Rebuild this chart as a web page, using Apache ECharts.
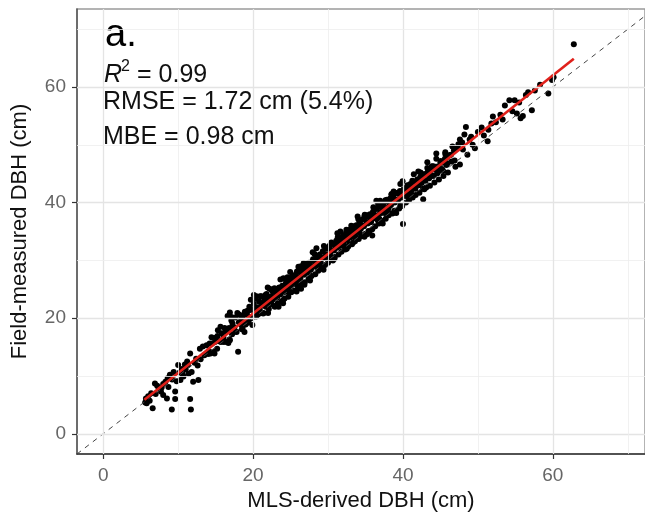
<!DOCTYPE html>
<html>
<head>
<meta charset="utf-8">
<script src="https://cdn.jsdelivr.net/npm/echarts@6/dist/echarts.min.js"></script>
<style>
  html, body { margin: 0; padding: 0; background: #fff; }
  #chart { width: 645px; height: 522px; }
</style>
</head>
<body>
<div id="chart"></div>
<script>
// MLS-derived vs field-measured DBH (cm)
var smallTrees = [
	[5.6,5.4],[5.8,5.3],[5.7,6.1],[6.0,6.5],[6.2,5.7],[6.6,4.4],[6.4,7.0],[6.9,8.7],[7.0,6.9],[7.4,7.9],
	[7.2,8.3],[7.7,7.3],[8.0,6.7],[8.0,8.6],[8.5,6.1],[8.3,9.0],[8.7,8.1],[8.9,10.2],[9.15,4.2],[9.4,10.7],
	[9.6,6.0],[9.6,7.3],[9.2,9.4],[9.8,9.1],[10.0,11.9],[10.3,9.3],[10.2,10.6],[10.5,11.2],[10.7,9.9],[10.9,12.0],
	[11.2,12.5],[11.4,10.4],[11.0,11.1],[11.6,6.0],[11.7,4.2],[11.8,10.7],[11.6,13.9],[12.0,9.0],[12.2,12.3],[12.4,13.0],
	[12.7,9.3],[12.9,14.7],[12.6,11.8],[13.3,15.1],[13.0,12.9],[13.5,13.6],[8.6,9.6],[10.6,10.3],[11.3,11.9],[7.8,8.0]
];
var youngTrees = [
	[13.8,15.3],[14.0,13.8],[14.3,13.9],[14.5,15.6],[14.9,15.9],[15.2,14.7],[15.0,16.6],[15.5,16.0],[15.8,17.4],[16.1,15.9],
	[16.5,15.9],[16.3,17.6],[16.9,16.2],[16.8,18.3],[17.1,19.6],[17.2,17.2],[17.5,18.4],[17.6,20.1],[17.8,17.6],[18.0,14.2],
	[18.1,19.3],[18.3,20.5],[18.5,18.1],[18.6,19.8],[18.9,21.1],[19.0,18.9],[19.2,20.6],[19.4,19.4],[19.6,21.4],[19.8,20.0],
	[19.9,18.8],[20.1,22.5],[20.2,21.0],[20.4,20.3],[16.6,20.4],[16.9,21.0],[17.1,20.2],[18.6,18.3],[20.1,24.0],[19.7,23.2],
	[14.2,15.6],[14.7,14.2],[15.3,17.9],[15.7,15.9],[16.2,18.3],[16.7,15.7],[17.3,18.5],[17.9,20.9],[18.4,18.9],[18.8,20.6],
	[19.3,19.2],[19.5,22.0],[20.0,20.3],[14.05,14.3],[14.45,16.7],[14.85,13.9],[15.25,16.9],[15.65,18.5],[16.05,16.6],[16.45,17.8],
	[16.85,16.3],[17.25,19.1],[17.65,17.7],[18.05,20.7],[18.45,19.6],[18.85,17.6],[19.25,21.3],[19.65,20.1],[20.05,21.6]
];
var midTrees = [
	[20.3,23.4],[20.5,21.8],[20.6,20.6],[20.8,22.9],[20.9,21.4],[21.1,23.8],[21.2,22.3],[21.4,20.9],[21.5,23.1],[21.7,22.0],
	[21.8,24.2],[22.0,22.8],[22.1,21.6],[22.3,23.7],[22.4,22.5],[22.6,24.6],[22.7,23.3],[22.9,22.0],[23.0,24.9],[23.2,23.6],
	[23.3,22.6],[23.5,25.3],[23.6,24.1],[23.8,22.9],[23.9,25.6],[24.1,24.5],[24.2,23.4],[24.4,26.2],[24.5,25.0],[24.7,23.7],
	[24.8,26.6],[25.0,25.5],[25.1,24.5],[25.3,27.3],[25.4,26.0],[25.6,24.8],[25.7,27.6],[25.9,26.4],[26.0,25.3],[26.2,28.1],
	[26.3,26.9],[26.5,25.9],[26.6,28.6],[26.8,27.5],[26.9,26.2],[27.1,29.0],[27.2,27.9],[27.4,26.8],[27.5,29.6],[27.7,28.4],
	[27.8,27.3],[28.0,30.2],[28.1,29.0],[28.3,27.6],[28.4,30.5],[28.6,29.4],[28.7,28.2],[28.9,31.0],[29.0,29.8],[29.2,28.7],
	[29.3,31.6],[29.5,30.4],[29.6,29.2],[29.8,32.0],[29.9,30.9],[30.0,29.6],
	[20.7,21.9],[21.3,22.6],[21.9,23.3],[22.5,23.0],[23.1,24.3],[23.7,25.0],[24.3,25.3],[24.9,25.9],[25.5,26.8],[26.1,27.0],
	[26.7,27.8],[27.3,28.4],[27.9,28.8],[28.5,29.6],[29.1,30.3],[29.7,30.7],[22.2,25.1],[24.6,27.1],[26.4,29.0],[28.2,31.1],
	[23.4,22.0],[25.8,24.6],[27.6,26.5],[29.4,28.4],[24.0,22.6],[26.4,25.1],[24.0,23.1],[22.0,20.9],
	[20.45,21.8],[20.95,23.8],[21.35,20.8],[21.65,23.7],[21.95,25.3],[22.25,22.4],[22.55,23.7],[22.85,25.2],[23.15,22.1],[23.45,25.2],
	[23.75,24.3],[24.05,26.9],[24.35,25.4],[24.65,24.6],[24.95,28.0],[25.25,26.9],[25.55,25.9],[25.85,28.1],[26.15,25.8],[26.45,27.8],
	[26.75,29.5],[27.05,27.9],[27.35,29.3],[27.65,27.2],[27.95,31.4],[28.25,29.9],[28.55,28.8],[28.85,30.7],[29.15,29.1],[29.45,32.5],
	[29.75,31.0],[20.45,23.8],[20.85,20.8],[21.25,22.2],[21.65,24.0],[22.05,22.5],[22.45,24.9],[22.85,22.1],[23.25,25.1],[23.65,26.7],
	[24.05,24.9],[24.45,26.1],[24.85,24.6],[25.25,27.3],[25.65,25.9],[26.05,28.9],[26.45,27.8],[26.85,25.8],[27.25,29.5],[27.65,28.4],
	[28.05,29.9],[28.45,32.1],[28.85,29.0],[29.25,30.4],[29.65,32.2]
];
var largeTrees = [
	[30.2,32.5],[30.3,31.3],[30.5,30.4],[30.6,32.9],[30.8,31.7],[30.9,30.6],[31.1,33.4],[31.2,32.2],[31.4,31.0],[31.5,33.8],
	[31.7,32.6],[31.8,31.5],[32.0,34.3],[32.1,33.1],[32.3,31.9],[32.4,34.8],[32.6,33.6],[32.7,32.4],[32.9,35.3],[33.0,34.0],
	[33.2,32.8],[33.3,35.7],[33.5,34.5],[33.6,33.3],[33.8,36.1],[33.9,35.0],[34.1,33.7],[34.2,36.6],[34.4,35.5],[34.5,34.2],
	[34.7,37.1],[34.8,35.9],[35.0,34.6],[35.1,37.5],[35.3,36.4],[35.4,35.1],[35.6,38.0],[35.7,36.9],[35.9,35.4],[36.0,38.4],
	[36.2,37.3],[36.3,35.9],[36.5,38.9],[36.6,37.8],[36.8,36.4],[36.9,39.3],[37.1,38.2],[37.2,36.8],[37.4,39.8],[37.5,38.7],
	[37.7,37.2],[37.8,40.2],[38.0,39.1],[38.1,37.8],[38.3,40.7],[38.4,39.6],[38.6,38.1],[38.7,41.1],[38.9,40.0],[39.0,38.6],
	[39.2,41.6],[39.3,40.5],[39.5,39.0],[39.6,42.0],[39.8,40.9],[39.9,39.4],
	[30.4,31.8],[31.0,32.4],[31.6,33.0],[32.2,33.6],[32.8,34.1],[33.4,34.8],[34.0,35.3],[34.6,36.0],[35.2,36.6],[35.8,37.1],
	[36.4,37.6],[37.0,38.3],[37.6,38.8],[38.2,39.4],[38.8,40.1],[39.4,40.6],[31.3,34.0],[33.1,36.0],[34.9,37.9],[36.7,39.7],
	[38.5,41.5],[32.5,32.0],[35.5,34.8],[37.3,36.4],[39.1,38.2],[40.0,36.3],[35.9,34.3],
	[30.05,30.6],[30.35,32.8],[30.65,30.0],[30.95,32.6],[31.25,34.7],[31.55,32.5],[31.85,34.0],[32.15,32.4],[32.45,35.3],[32.75,33.9],
	[33.05,34.8],[33.35,33.1],[33.65,36.0],[33.95,37.6],[34.25,34.7],[34.55,36.1],[34.85,37.6],[35.15,34.5],[35.45,37.6],[35.75,36.7],
	[36.05,39.2],[36.35,37.7],[36.65,36.9],[36.95,40.3],[37.25,39.2],[37.55,38.2],[37.85,40.5],[38.15,38.2],[38.45,40.2],[38.75,41.9],
	[39.05,40.3],[39.35,41.7],[39.65,39.5],[39.95,43.7],[30.05,30.7],[30.45,33.1],[30.85,30.3],[31.25,33.4],[31.65,35.0],[32.05,33.1],
	[32.45,34.3],[32.85,32.8],[33.25,35.5],[33.65,34.1],[34.05,37.1],[34.45,36.1],[34.85,34.1],[35.25,37.8],[35.65,36.6],[36.05,38.1],
	[36.45,40.3],[36.85,37.2],[37.25,38.6],[37.65,40.4],[38.05,39.0],[38.45,41.4],[38.85,38.6],[39.25,41.6],[39.65,43.2]
];
var bigTrees = [
	[40.1,42.3],[40.2,41.2],[40.4,40.0],[40.5,42.6],[40.7,41.6],[40.8,40.4],[41.0,43.2],[41.1,42.1],[41.3,40.9],[41.4,43.6],
	[41.6,42.5],[41.7,41.3],[41.9,44.0],[42.0,43.0],[42.2,41.7],[42.3,44.4],[42.5,43.4],[42.7,40.6],[42.8,44.9],[43.0,43.8],
	[43.1,42.6],[43.3,45.3],[43.5,44.2],[43.6,42.9],[43.8,45.7],[44.0,44.6],[44.2,43.5],[44.4,46.2],[44.6,45.1],[44.8,44.0],
	[45.0,47.0],[45.2,45.8],[45.4,44.6],[45.6,47.6],[45.8,46.5],[46.0,45.2],[46.2,48.2],[46.5,47.1],[46.8,49.0],[47.0,46.2],
	[47.3,49.5],[47.6,46.6],[40.6,43.0],[41.8,43.5],[43.2,44.8],[44.5,45.6],[45.9,47.9],[46.6,49.7],[47.6,50.9],[45.2,45.7],
	[40.25,42.2],[40.55,41.1],[40.85,43.0],[41.15,41.4],[41.45,44.9],[41.75,43.4],[42.05,43.0],[42.35,45.2],[42.65,42.4],[42.95,44.9],
	[43.25,47.0],[43.55,44.8],[43.85,46.3],[44.15,44.7],[44.45,47.6],[44.75,46.3],[45.05,47.2],[45.35,45.5],[45.65,48.4],[45.95,46.8],
	[46.4,48.3],[46.9,47.3],[47.4,50.1],[40.05,41.3],[40.45,42.5],[40.85,41.0],[41.25,43.8],[41.65,42.4],[42.05,45.4],[42.45,44.3],
	[42.85,42.3],[43.25,46.0],[43.65,44.8],[44.05,46.3],[44.45,48.5],[44.85,45.5],[45.25,46.9],[45.65,48.7]
];
var giantTrees = [
	[47.9,50.4],[48.2,51.8],[48.4,53.1],[48.6,48.3],[48.9,50.9],[49.1,51.4],[49.6,49.4],[50.0,52.2],[50.5,53.0],[51.3,50.6],
	[51.4,52.6],[51.8,53.7],[52.0,54.9],[52.4,53.9],[53.0,55.2],[53.6,56.8],[54.2,57.7],[54.6,55.8],[54.9,57.7],[55.2,55.4],
	[55.5,57.3],[55.7,54.6],[56.0,55.0],[56.4,58.6],[56.7,59.1],[57.2,56.0],[57.6,59.4],[58.3,60.4],[59.4,58.9],[59.9,61.2],
	[60.1,61.7],[62.8,67.4],[48.0,49.2],[49.3,50.0],[50.8,51.6],[53.3,54.4]
];
var fitLine = [[5.5, 5.9], [62.8, 64.9]];
var oneToOne = [[-3.5, -3.5], [72.3, 72.3]];
var gridValues = [0, 10, 20, 30, 40, 50, 60, 70];
var tickValues = [0, 20, 40, 60];

var allPoints = smallTrees.concat(youngTrees, midTrees, largeTrees, bigTrees, giantTrees);
var chart = echarts.init(document.getElementById('chart'));
var font = 'Liberation Sans, Arial, sans-serif';

var gridMarks = [];
gridValues.forEach(function (v) {
	var major = v % 20 === 0;
	var style = { color: major ? '#e4e4e4' : '#eeeeee', width: major ? 1.3 : 0.8, type: 'solid' };
	gridMarks.push({ xAxis: v, lineStyle: style });
	gridMarks.push({ yAxis: v, lineStyle: style });
});

var option = {
	animation: false,
	backgroundColor: '#fff',
	grid: {
		left: 77, right: 0, top: 9, bottom: 68,
		show: true, borderColor: '#9a9a9a', borderWidth: 1.5
	},
	xAxis: {
		type: 'value', min: -3.5, max: 72.3,
		name: 'MLS-derived DBH (cm)', nameLocation: 'middle', nameGap: 33,
		nameTextStyle: { fontFamily: font, fontSize: 22, color: '#111' },
		axisLine: { show: true, onZero: false, lineStyle: { color: '#333', width: 1.5 } },
		axisTick: { show: true, length: 5, customValues: tickValues, lineStyle: { color: '#333', width: 1.2 } },
		axisLabel: { customValues: tickValues, fontFamily: font, fontSize: 19, color: '#666', margin: 12 },
		splitLine: { show: false }
	},
	yAxis: {
		type: 'value', min: -3.5, max: 73.5,
		name: 'Field-measured DBH (cm)', nameLocation: 'middle', nameGap: 46,
		nameTextStyle: { fontFamily: font, fontSize: 22, color: '#111' },
		axisLine: { show: true, onZero: false, lineStyle: { color: '#555', width: 1.5 } },
		axisTick: { show: true, length: 5, customValues: tickValues, lineStyle: { color: '#333', width: 1.2 } },
		axisLabel: { customValues: tickValues, fontFamily: font, fontSize: 19, color: '#666', margin: 11 },
		splitLine: { show: false }
	},
	series: [
		{
			name: 'grid', type: 'scatter', data: [], z: 0, silent: true,
			markLine: { symbol: 'none', silent: true, label: { show: false }, data: gridMarks, animation: false }
		},
		{
			name: 'trees', type: 'scatter', data: allPoints, z: 2,
			symbol: 'circle', symbolSize: 6,
			itemStyle: { color: '#000', opacity: 1 }
		},
		{
			name: '1:1', type: 'line', data: oneToOne, z: 3, symbol: 'none',
			lineStyle: { color: '#444', width: 1, type: [5, 5] }
		},
		{
			name: 'fit', type: 'line', data: fitLine, z: 4, symbol: 'none',
			lineStyle: { color: '#e0211b', width: 2.6 }
		}
	],
	graphic: [
		{ type: 'text', left: 105, top: 17, style: { text: 'a.', font: '38px ' + font, fill: '#000' } },
		{ type: 'text', left: 104, top: 63, style: { text: 'R', font: 'italic 25px ' + font, fill: '#111' } },
		{ type: 'text', left: 121, top: 59, style: { text: '2', font: '16px ' + font, fill: '#111' } },
		{ type: 'text', left: 137, top: 63, style: { text: '= 0.99', font: '25px ' + font, fill: '#111' } },
		{ type: 'text', left: 103, top: 90, style: { text: 'RMSE = 1.72 cm (5.4%)', font: '25px ' + font, fill: '#111' } },
		{ type: 'text', left: 103, top: 125, style: { text: 'MBE = 0.98 cm', font: '25px ' + font, fill: '#111' } }
	]
};
chart.setOption(option);
</script>
</body>
</html>
